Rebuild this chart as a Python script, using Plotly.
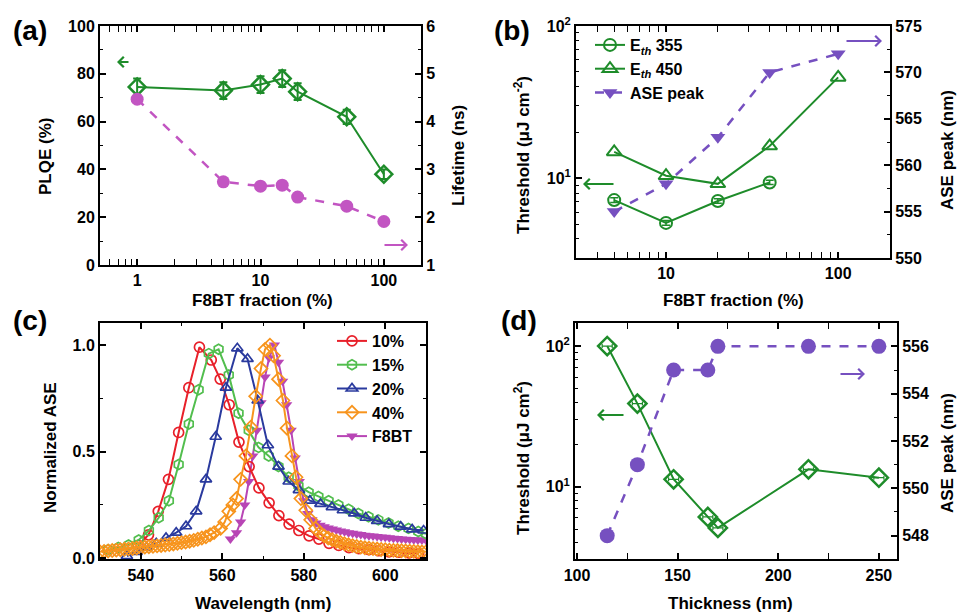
import math
import plotly.graph_objects as go

W, H = 960, 614
def px(x): return x / W
def py(y): return 1 - y / H

FONT = "Liberation Sans, Arial, sans-serif"
GREEN = "#1E8C2A"
MAG = "#C255C2"
PURP = "#7650C0"

# ---------------- Panel (a) ----------------
frac_a = [1, 5, 10, 15, 20, 50, 100]
plqe = [74.5, 73, 75.5, 78, 72.5, 62, 38]
plqe_err = [3.5, 3.5, 3.5, 3.5, 3.5, 3, 2]
lifetime = [4.47, 2.74, 2.65, 2.67, 2.42, 2.23, 1.91]

# ---------------- Panel (b) ----------------
frac_b355 = [5, 10, 20, 40]
eth355 = [7.2, 5.1, 7.1, 9.4]
eth355_err = [0.25, 0.18, 0.25, 0.3]
frac_b450 = [5, 10, 20, 40, 100]
eth450 = [14.9, 10.4, 9.2, 16.3, 46]
frac_bpk = [5, 10, 20, 40, 100]
ase_pk_b = [555, 558, 563, 570, 572]

# ---------------- Panel (c) ----------------
wl_10 = [539.4, 541.9, 544.3, 546.8, 549.3, 551.8, 554.4, 557.3, 559.5, 561.7, 564.1, 566.6, 569.0, 571.5,
         573.9, 576.4, 578.8, 581.3, 583.7, 586.2, 588.6, 591.1, 593.5, 596.0, 598.4, 600.9, 603.3, 605.8, 608.2]
ase_10 = [0.06, 0.11, 0.22, 0.37, 0.59, 0.80, 0.99, 0.93, 0.84, 0.72, 0.545, 0.43, 0.33, 0.26,
          0.20, 0.16, 0.13, 0.105, 0.09, 0.07, 0.06, 0.05, 0.045, 0.04, 0.035, 0.03, 0.028, 0.025, 0.022]

wl_15 = [532.0, 534.5, 537.0, 539.5, 542.0, 544.4, 546.9, 549.3, 551.8, 554.2, 556.7, 559.1, 561.6, 564.0,
         566.5, 568.9, 571.4, 573.8, 576.3, 578.7, 581.2, 583.6, 586.1, 588.5, 591.0, 593.4, 595.9, 598.3,
         600.8, 603.2, 605.7, 608.1, 610.0]
ase_15 = [0.04, 0.05, 0.062, 0.086, 0.13, 0.19, 0.27, 0.44, 0.63, 0.79, 0.96, 0.98, 0.86, 0.68,
          0.60, 0.52, 0.48, 0.43, 0.38, 0.34, 0.31, 0.29, 0.27, 0.25, 0.23, 0.21, 0.195, 0.18,
          0.165, 0.15, 0.14, 0.125, 0.115]

wl_20 = [536.6, 539.0, 541.4, 543.8, 546.2, 548.7, 551.1, 553.6, 556.0, 558.4, 560.9, 563.7, 566.2, 568.7,
         571.2, 573.8, 576.3, 578.8, 581.5, 584.1, 586.9, 589.6, 592.4, 595.2, 598.0, 600.9, 603.8, 606.6, 609.4]
ase_20 = [0.01, 0.03, 0.05, 0.07, 0.095, 0.12, 0.15, 0.22, 0.37, 0.57, 0.80, 0.985, 0.935, 0.74,
          0.53, 0.43, 0.36, 0.32, 0.27, 0.255, 0.24, 0.225, 0.21, 0.19, 0.175, 0.16, 0.148, 0.135, 0.13]

wl_40 = [530, 531, 532, 533, 534, 535, 536, 537, 538, 539, 540, 541, 542, 543, 544, 545, 546, 547, 548, 549,
         550, 551, 552, 553, 554, 555, 556, 557, 558, 559.6, 560.6, 561.6, 562.6, 563.5, 564.5, 565.8, 567.0,
         568.2, 569.5, 570.5, 571.7, 572.6, 573.8, 574.9, 575.9, 577.1, 578.1, 579.3, 580.5, 581.7, 582.9,
         584.0, 585, 586, 587, 588, 589, 590, 591, 592, 593, 594, 595, 596, 597, 598, 599, 600, 601, 602,
         603, 604, 605, 606, 607, 608, 609, 610]
ase_40 = [0.03, 0.032, 0.034, 0.036, 0.038, 0.04, 0.042, 0.044, 0.046, 0.048, 0.05, 0.052, 0.054, 0.056,
          0.058, 0.06, 0.062, 0.064, 0.067, 0.07, 0.073, 0.076, 0.08, 0.084, 0.089, 0.095, 0.10, 0.11, 0.12,
          0.14, 0.17, 0.22, 0.25, 0.28, 0.37, 0.48, 0.615, 0.76, 0.89, 0.98, 1.0, 0.95, 0.84, 0.74, 0.61,
          0.48, 0.38, 0.28, 0.225, 0.18, 0.14, 0.12, 0.105, 0.095, 0.087, 0.08, 0.074, 0.068, 0.063, 0.059,
          0.055, 0.052, 0.049, 0.047, 0.045, 0.043, 0.041, 0.04, 0.038, 0.037, 0.036, 0.035, 0.034, 0.033,
          0.032, 0.031, 0.03, 0.03]

wl_f8 = [562, 563.5, 564.5, 565.5, 566.5, 567.5, 568.5, 569.5, 570.5, 571.5, 572.8, 573.8, 574.8,
         575.8, 576.9, 577.9, 578.9, 580.0, 581.0, 582.0, 583.0, 584, 585, 586, 587, 588, 589, 590, 591, 592,
         593, 594, 595, 596, 597, 598, 599, 600, 601, 602, 603, 604, 605, 606, 607, 608, 609, 610]
ase_f8 = [0.09, 0.12, 0.17, 0.25, 0.36, 0.48, 0.60, 0.73, 0.85, 0.94, 1.0, 0.92, 0.83,
          0.72, 0.60, 0.47, 0.36, 0.27, 0.21, 0.18, 0.165, 0.155, 0.148, 0.142, 0.137, 0.132, 0.128, 0.124,
          0.12, 0.117, 0.114, 0.111, 0.108, 0.106, 0.104, 0.102, 0.10, 0.098, 0.096, 0.094, 0.092, 0.09,
          0.089, 0.088, 0.087, 0.086, 0.085, 0.084]

# ---------------- Panel (d) ----------------
thick = [115, 130, 148, 165, 170, 215, 250]
thr_d = [100, 39, 11.3, 6.1, 5.1, 13.3, 11.6]
thick_err = [2.5, 2.5, 2.5, 2.5, 2.5, 2.5, 2.5]
ase_pk_d = [548, 551, 555, 555, 556, 556, 556]

fig = go.Figure()

# (a)
fig.add_trace(go.Scatter(x=frac_a, y=plqe, xaxis="x", yaxis="y", mode="lines+markers",
                         line=dict(color=GREEN, width=2),
                         marker=dict(symbol="diamond-open", size=13, color=GREEN, line=dict(width=2.5)),
                         error_y=dict(type="data", array=plqe_err, color=GREEN, thickness=2, width=4),
                         showlegend=False))
fig.add_trace(go.Scatter(x=frac_a, y=lifetime, xaxis="x", yaxis="y2", mode="lines+markers",
                         line=dict(color=MAG, width=2.5, dash="dash"),
                         marker=dict(symbol="circle", size=13, color=MAG),
                         showlegend=False))

# (b)
fig.add_trace(go.Scatter(x=frac_b355, y=eth355, xaxis="x2", yaxis="y3", mode="lines+markers",
                         name="E<sub><i>th</i></sub> 355", legend="legend",
                         line=dict(color=GREEN, width=2),
                         marker=dict(symbol="circle-open", size=12, color=GREEN, line=dict(width=2)),
                         error_y=dict(type="data", array=eth355_err, color=GREEN, thickness=1.5, width=4)))
fig.add_trace(go.Scatter(x=frac_b450, y=eth450, xaxis="x2", yaxis="y3", mode="lines+markers",
                         name="E<sub><i>th</i></sub> 450", legend="legend",
                         line=dict(color=GREEN, width=2),
                         marker=dict(symbol="triangle-up-open", size=13, color=GREEN, line=dict(width=2))))
fig.add_trace(go.Scatter(x=frac_bpk, y=ase_pk_b, xaxis="x2", yaxis="y4", mode="lines+markers",
                         name="ASE peak", legend="legend",
                         line=dict(color=PURP, width=2.5, dash="dash"),
                         marker=dict(symbol="triangle-down", size=13, color=PURP)))

# (c)
C_RED, C_GRN, C_BLU, C_ORG, C_MAG = "#E8202A", "#52BE4E", "#2A3A9E", "#F7941D", "#B845B5"
fig.add_trace(go.Scatter(x=wl_f8, y=ase_f8, xaxis="x3", yaxis="y5", mode="lines+markers",
                         name="F8BT", legend="legend2", legendrank=5,
                         line=dict(color=C_MAG, width=2),
                         marker=dict(symbol="triangle-down", size=10, color=C_MAG)))
for wl, v, nm, col, sym, rk in [(wl_10, ase_10, "10%", C_RED, "circle-open", 1),
                                (wl_15, ase_15, "15%", C_GRN, "hexagon-open", 2),
                                (wl_20, ase_20, "20%", C_BLU, "triangle-up-open", 3),
                                (wl_40, ase_40, "40%", C_ORG, "diamond-open", 4)]:
    fig.add_trace(go.Scatter(x=wl, y=v, xaxis="x3", yaxis="y5", mode="lines+markers",
                             name=nm, legend="legend2", legendrank=rk,
                             line=dict(color=col, width=2),
                             marker=dict(symbol=sym, size=10, color=col, line=dict(width=1.7))))

# (d)
fig.add_trace(go.Scatter(x=thick, y=thr_d, xaxis="x4", yaxis="y6", mode="lines+markers",
                         line=dict(color=GREEN, width=2),
                         marker=dict(symbol="diamond-open", size=14, color=GREEN, line=dict(width=2.5)),
                         error_x=dict(type="data", array=thick_err, color=GREEN, thickness=1.2, width=2),
                         showlegend=False))
fig.add_trace(go.Scatter(x=thick, y=ase_pk_d, xaxis="x4", yaxis="y7", mode="lines+markers",
                         line=dict(color=PURP, width=2.5, dash="dash"),
                         marker=dict(symbol="circle", size=15, color=PURP),
                         showlegend=False))

TF = dict(family=FONT, size=16, color="black", weight="bold")

def axs(**kw):
    d = dict(showline=True, linecolor="black", linewidth=2, ticks="inside", ticklen=6, tickwidth=1.5,
             tickcolor="black", showgrid=False, zeroline=False, tickfont=TF, automargin=False)
    d.update(kw)
    return d

MIN = dict(ticks="inside", ticklen=3, tickwidth=1.2, tickcolor="black", showgrid=False)
MINLOG = dict(ticks="inside", ticklen=3, tickwidth=1.2, tickcolor="black", showgrid=False, dtick="D1")

fig.update_layout(
    width=W, height=H, margin=dict(l=0, r=0, t=0, b=0, autoexpand=False),
    paper_bgcolor="white", plot_bgcolor="white",
    font=dict(family=FONT, color="black"),
    # (a)
    xaxis=axs(type="log", domain=[px(100), px(421)], range=[math.log10(0.5), math.log10(200)], anchor="y",
              tickvals=[1, 10, 100], ticktext=["1", "10", "100"], mirror="allticks", minor=MINLOG),
    yaxis=axs(domain=[py(265), py(26)], range=[0, 100], dtick=20, anchor="x", minor=dict(MIN, dtick=10)),
    yaxis2=axs(overlaying="y", side="right", anchor="x", range=[1, 6], dtick=1, minor=dict(MIN, dtick=0.5)),
    # (b)
    xaxis2=axs(type="log", domain=[px(576), px(890)], range=[math.log10(3), math.log10(200)], anchor="y3",
               tickvals=[10, 100], ticktext=["10", "100"], mirror="allticks", minor=MINLOG),
    yaxis3=axs(type="log", domain=[py(258), py(26)], range=[math.log10(3), 2], anchor="x2",
               tickvals=[10, 100], ticktext=["10<sup>1</sup>", "10<sup>2</sup>"], minor=MINLOG),
    yaxis4=axs(overlaying="y3", side="right", anchor="x2", range=[550, 575], dtick=5, minor=dict(MIN, dtick=2.5)),
    # (c)
    xaxis3=axs(domain=[px(100), px(426)], range=[530, 610], dtick=20, anchor="y5", mirror="allticks",
               minor=dict(MIN, dtick=10)),
    yaxis5=axs(domain=[py(559.3), py(322.7)], range=[-0.005, 1.105], dtick=0.5, tickformat=".1f", anchor="x3",
               mirror="allticks", minor=dict(MIN, dtick=0.25)),
    # (d)
    xaxis4=axs(domain=[px(575), px(897)], range=[99, 259], dtick=50, anchor="y6", mirror="allticks",
               minor=dict(MIN, dtick=25)),
    yaxis6=axs(type="log", domain=[py(559.3), py(322.7)], range=[math.log10(3.05), math.log10(146.6)],
               anchor="x4", tickvals=[10, 100], ticktext=["10<sup>1</sup>", "10<sup>2</sup>"], minor=MINLOG),
    yaxis7=axs(overlaying="y6", side="right", anchor="x4", range=[547, 557], dtick=2, minor=dict(MIN, dtick=1)),
    legend=dict(x=px(590), y=py(28), xanchor="left", yanchor="top", bgcolor="rgba(0,0,0,0)",
                font=dict(family=FONT, size=16, color="black", weight="bold"), tracegroupgap=0),
    legend2=dict(x=px(332), y=py(324), xanchor="left", yanchor="top", bgcolor="rgba(0,0,0,0)",
                 font=dict(family=FONT, size=16, color="black", weight="bold"), tracegroupgap=0,
                 traceorder="normal"),
)

anns = []
def label(txt, x, y, size=16, angle=0):
    anns.append(dict(text=txt, x=px(x), y=py(y), xref="paper", yref="paper", showarrow=False,
                     xanchor="center", yanchor="middle", textangle=angle,
                     font=dict(family=FONT, size=size, color="black", weight="bold")))

label("(a)", 30, 30, 28)
label("(b)", 512, 30, 28)
label("(c)", 30, 320, 28)
label("(d)", 519, 320, 28)
label("PLQE (%)", 45, 157, 17, -90)
label("Lifetime (ns)", 458, 156, 17, -90)
label("F8BT fraction (%)", 262, 300, 17)
label("Threshold (μJ cm<sup>-2</sup>)", 522, 155, 17, -90)
label("ASE peak (nm)", 947, 150, 17, -90)
label("F8BT fraction (%)", 733, 300, 17)
label("Normalized ASE", 50, 448, 17, -90)
label("Wavelength (nm)", 263, 603, 17)
label("Threshold (μJ cm<sup>2</sup>)", 522, 458, 17, -90)
label("ASE peak (nm)", 947, 453, 17, -90)
label("Thickness (nm)", 730, 603, 17)

def arrow(hx, hy, dx, col):
    anns.append(dict(text="", x=px(hx), y=py(hy), xref="paper", yref="paper", showarrow=True,
                     ax=dx, ay=0, axref="pixel", ayref="pixel", arrowhead=4, arrowsize=1,
                     arrowwidth=2, arrowcolor=col))

arrow(117, 62, 13, GREEN)
arrow(408, 245, -25, MAG)
arrow(583, 184, 32, GREEN)
arrow(882, 41, -37, PURP)
arrow(597, 415, 28, GREEN)
arrow(865, 374, -26, PURP)

fig.update_layout(annotations=anns)
fig.write_html("out.html", config={"displayModeBar": False},
               post_script="document.body.style.margin='0';document.body.style.overflow='hidden';")
